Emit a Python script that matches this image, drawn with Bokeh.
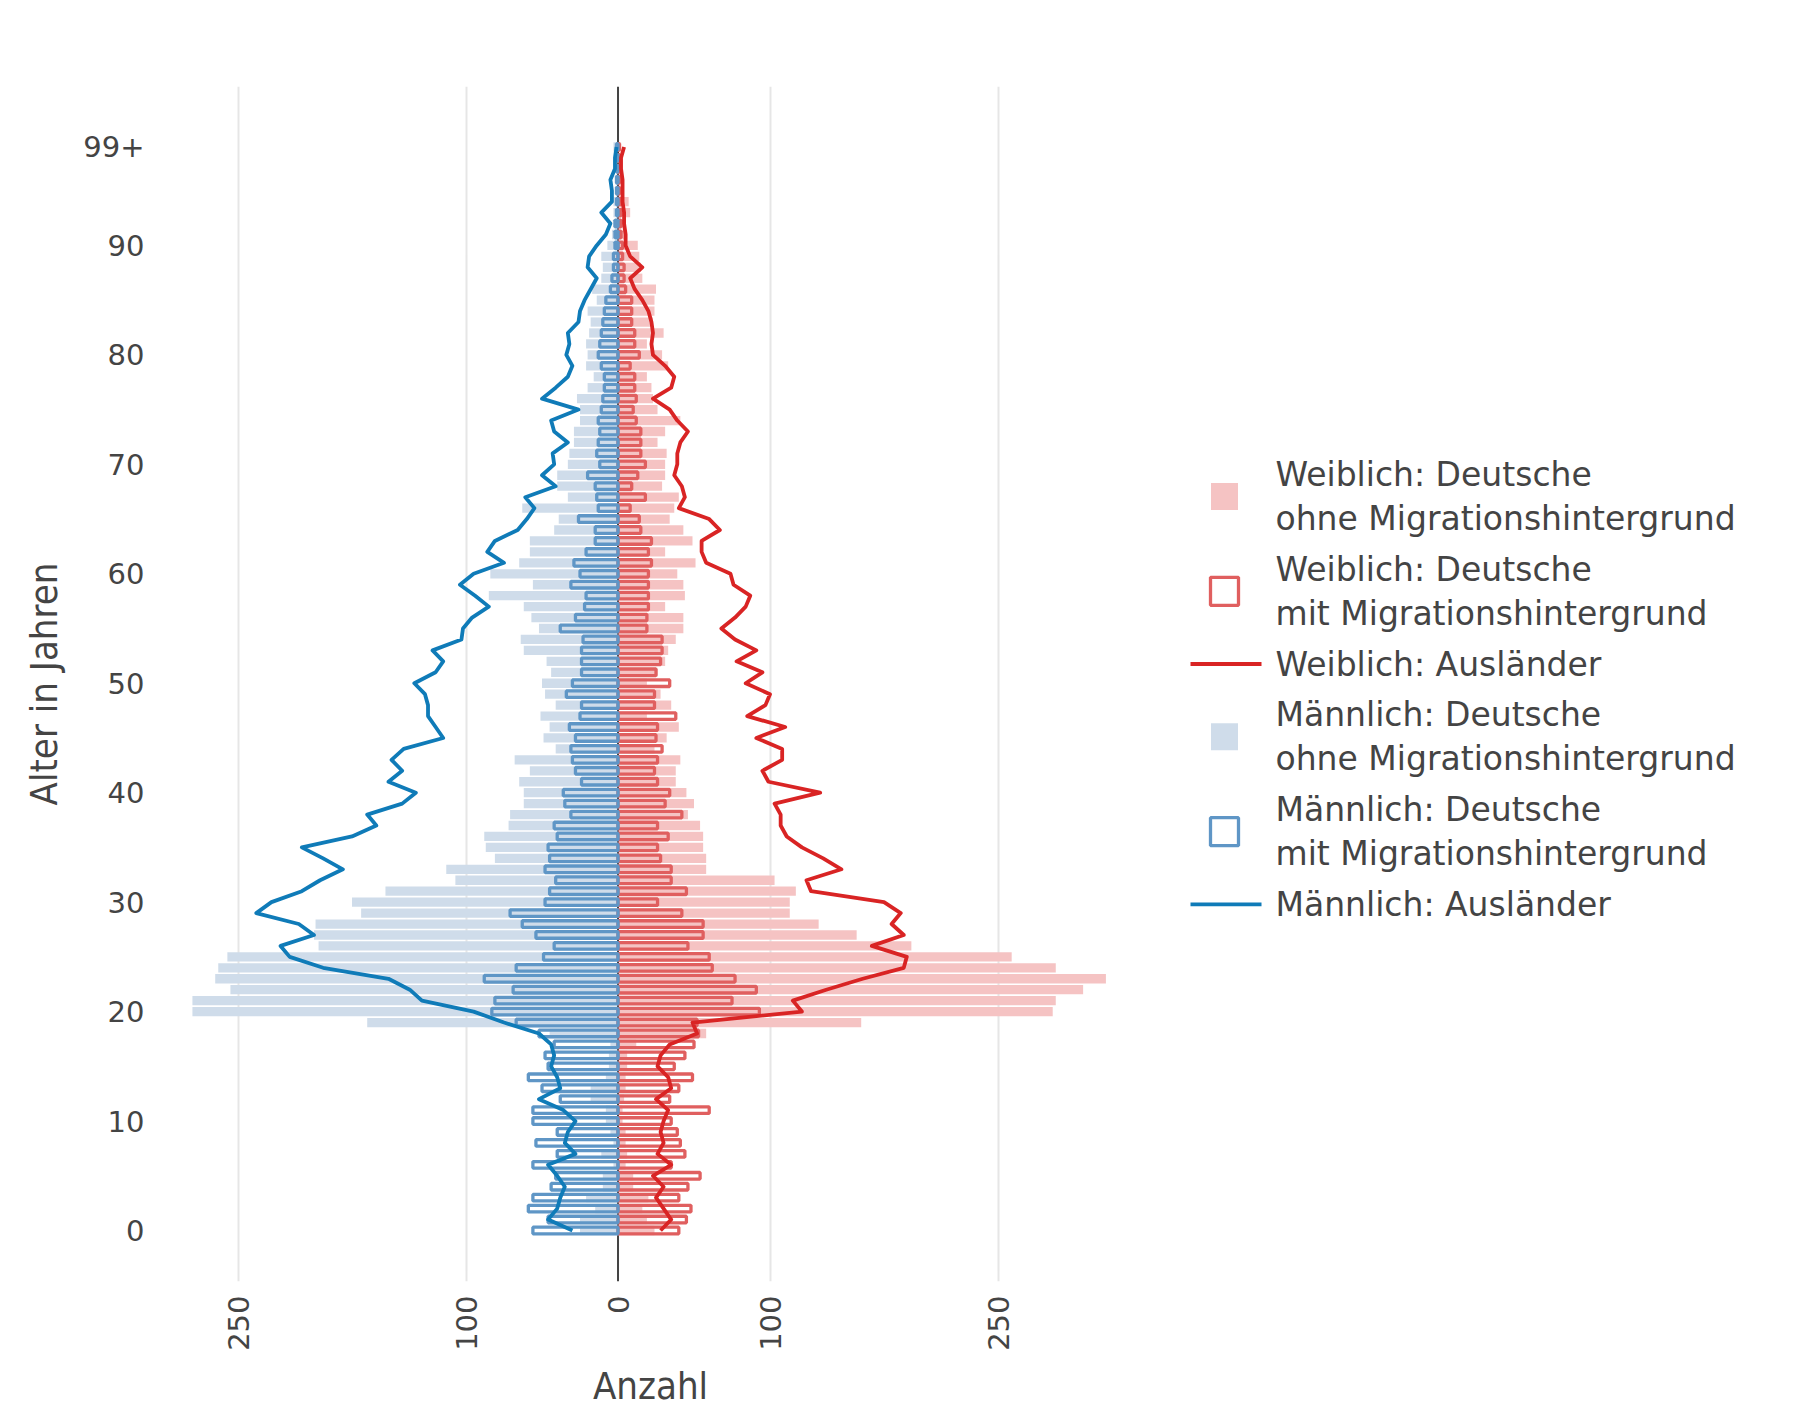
import math
from bokeh.plotting import figure
from bokeh.layouts import row
from bokeh.models import FixedTicker, Span, Range1d
from bokeh.core.properties import value
from bokeh.embed import file_html
from bokeh.resources import INLINE

# ---------------- data ----------------
ages = list(range(100))
age_tick_values = [0, 10, 20, 30, 40, 50, 60, 70, 80, 90, 99]
age_tick_labels = ["0", "10", "20", "30", "40", "50", "60", "70", "80", "90", "99+"]
count_tick_values = [-250, -100, 0, 100, 250]
count_tick_labels = ["250", "100", "0", "100", "250"]

w_ohne = [24, 19, 16, 20, 10, 10, 5, 6, 5, 5,
          3, 3, 4, 5, 5, 6, 6, 12, 58, 160,
          286, 288, 306, 321, 288, 259, 193, 157, 132, 113,
          113, 117, 103, 58, 58, 56, 56, 54, 46, 50,
          45, 38, 38, 41, 24, 32, 40, 19, 35, 28,
          19, 26, 31, 33, 38, 43, 43, 31, 44, 43,
          39, 51, 31, 49, 43, 34, 37, 40, 29, 31,
          31, 32, 26, 31, 41, 26, 23, 22, 19, 33,
          29, 19, 30, 23, 24, 24, 25, 16, 15, 14,
          13, 6, 5, 8, 7, 3, 2, 2, 1, 2]
w_mit = [40, 45, 48, 40, 46, 54, 35, 44, 41, 39,
         35, 60, 34, 40, 49, 37, 44, 50, 53, 52,
         93, 75, 91, 77, 62, 60, 46, 56, 56, 42,
         26, 45, 35, 35, 28, 26, 33, 26, 42, 31,
         34, 26, 24, 26, 29, 25, 26, 38, 24, 24,
         34, 25, 28, 29, 29, 19, 19, 20, 20, 20,
         20, 22, 20, 22, 15, 14, 8, 18, 9, 13,
         18, 15, 15, 15, 12, 10, 12, 11, 11, 8,
         14, 11, 11, 9, 9, 9, 5, 4, 4, 3,
         3, 2, 2, 2, 2, 1, 1, 1, 1, 1]
w_aus = [28, 35, 30, 25, 30, 23, 35, 26, 30, 28,
         30, 33, 25, 35, 33, 26, 28, 34, 52, 49,
         121, 115, 137, 161, 188, 190, 167, 188, 180, 186,
         175, 127, 124, 147, 135, 121, 111, 107, 107, 103,
         133, 99, 95, 108, 108, 91, 110, 85, 97, 100,
         84, 95, 78, 91, 77, 68, 77, 84, 87, 76,
         74, 58, 55, 55, 67, 60, 40, 44, 42, 37,
         39, 39, 41, 46, 39, 34, 23, 35, 37, 31,
         23, 22, 23, 22, 20, 16, 11, 8, 16, 8,
         5, 5, 4, 4, 3, 3, 3, 2, 2, 4]
m_ohne = [25, 25, 15, 21, 10, 10, 3, 11, 3, 5,
          8, 8, 18, 18, 8, 6, 6, 5, 45, 165,
          280, 280, 255, 265, 263, 257, 197, 200, 199, 169,
          175, 153, 107, 113, 81, 87, 88, 72, 71, 62,
          62, 65, 58, 68, 41, 49, 45, 51, 41, 48,
          50, 44, 47, 62, 64, 52, 57, 62, 85, 56,
          84, 65, 58, 58, 42, 39, 63, 33, 40, 40,
          33, 32, 29, 29, 25, 25, 27, 20, 16, 21,
          20, 21, 19, 18, 20, 14, 17, 11, 10, 11,
          7, 4, 3, 3, 3, 2, 2, 1, 1, 3]
m_mit = [56, 46, 59, 56, 44, 41, 56, 40, 54, 40,
         56, 56, 38, 50, 59, 46, 48, 42, 52, 67,
         83, 81, 69, 88, 67, 49, 42, 54, 63, 71,
         48, 45, 41, 48, 45, 46, 40, 42, 31, 35,
         36, 24, 28, 30, 31, 28, 32, 25, 24, 34,
         30, 24, 24, 24, 23, 38, 28, 22, 21, 31,
         25, 29, 21, 15, 15, 26, 13, 14, 15, 20,
         12, 14, 13, 12, 13, 11, 10, 9, 9, 11,
         13, 12, 11, 10, 9, 8, 5, 4, 3, 3,
         2, 2, 2, 1, 1, 1, 1, 1, 1, 1]
m_aus = [30, 46, 40, 38, 35, 40, 46, 28, 35, 33,
         28, 36, 52, 38, 40, 44, 42, 44, 52, 75,
         95, 129, 137, 151, 194, 216, 222, 200, 210, 238,
         228, 208, 196, 181, 194, 208, 175, 159, 165, 142,
         133, 151, 142, 149, 141, 115, 120, 125, 125, 127,
         134, 120, 115, 122, 103, 102, 96, 85, 94, 104,
         95, 75, 86, 81, 66, 60, 55, 61, 41, 50,
         42, 43, 33, 42, 44, 26, 50, 41, 33, 30,
         34, 32, 33, 26, 25, 22, 18, 14, 20, 19,
         14, 8, 5, 11, 4, 4, 5, 2, 2, 1]

series_names = ["Weiblich: Deutsche\nohne Migrationshintergrund",
                "Weiblich: Deutsche\nmit Migrationshintergrund",
                "Weiblich: Ausländer",
                "Männlich: Deutsche\nohne Migrationshintergrund",
                "Männlich: Deutsche\nmit Migrationshintergrund",
                "Männlich: Ausländer"]

# ---------------- styles ----------------
W_FILL = "#f5c3c3"
M_FILL = "#cfdcea"
W_EDGE = "#e05f5f"
M_EDGE = "#5f96c6"
W_LINE = "#d92424"
M_LINE = "#0f7bb8"
TXT = "#444444"
FONT = "DejaVu Sans"
TITLE_FONT = "DejaVu Sans Condensed"

# layout (page pixels)
BORDER_L, BORDER_T, BORDER_B, BORDER_R = 160, 86, 131, 10
FRAME_W, FRAME_H = 980, 1195
FIG_W = BORDER_L + FRAME_W + BORDER_R
LEG_W = 620

p = figure(frame_width=FRAME_W, frame_height=FRAME_H,
           x_range=Range1d(-301, 343.75), y_range=Range1d(-4.66, 104.52),
           output_backend="svg", toolbar_location=None,
           min_border_left=BORDER_L, min_border_right=BORDER_R,
           min_border_top=BORDER_T, min_border_bottom=BORDER_B)
p.outline_line_color = None
p.background_fill_color = "white"
p.border_fill_color = "white"

p.ygrid.visible = False
p.xgrid.ticker = FixedTicker(ticks=[v for v in count_tick_values if v != 0])
p.xgrid.grid_line_color = "#e6e6e6"
p.xgrid.grid_line_width = 2

zero = Span(location=0, dimension="height", line_color="#444444", line_width=2, level="underlay")
p.add_layout(zero)

neg = lambda arr: [-v for v in arr]

p.hbar(y=ages, left=0, right=w_ohne, height=0.85, fill_color=W_FILL, line_color=None)
p.hbar(y=ages, left=0, right=neg(m_ohne), height=0.85, fill_color=M_FILL, line_color=None)
p.hbar(y=ages, left=0, right=w_mit, height=0.6, fill_alpha=0, line_color=W_EDGE, line_width=3.3)
p.hbar(y=ages, left=0, right=neg(m_mit), height=0.6, fill_alpha=0, line_color=M_EDGE, line_width=3.3)
p.line(x=w_aus, y=ages, line_color=W_LINE, line_width=3.8, line_join="round")
p.line(x=neg(m_aus), y=ages, line_color=M_LINE, line_width=3.8, line_join="round")

# axes
p.xaxis.ticker = FixedTicker(ticks=count_tick_values)
p.xaxis.major_label_overrides = {v: l for v, l in zip(count_tick_values, count_tick_labels)}
p.xaxis.major_label_orientation = math.pi / 2
p.yaxis.ticker = FixedTicker(ticks=age_tick_values)
p.yaxis.major_label_overrides = {v: l for v, l in zip(age_tick_values, age_tick_labels)}
p.xaxis.axis_label = "Anzahl"
p.yaxis.axis_label = "Alter in Jahren"
for ax in (p.xaxis[0], p.yaxis[0]):
    ax.axis_line_color = None
    ax.major_tick_line_color = None
    ax.minor_tick_line_color = None
    ax.major_tick_out = 0
    ax.major_tick_in = 0
    ax.major_label_text_font = FONT
    ax.major_label_text_font_size = "29px"
    ax.major_label_text_color = TXT
    ax.axis_label_text_font = TITLE_FONT
    ax.axis_label_text_font_size = "38px"
    ax.axis_label_text_font_style = "normal"
    ax.axis_label_text_color = TXT
p.xaxis.major_label_standoff = 14
p.yaxis.major_label_standoff = 16
p.xaxis.axis_label_standoff = 10
p.yaxis.axis_label_standoff = 14

# ---------------- legend panel (coordinates = page pixels) ----------------
L = figure(frame_width=LEG_W, frame_height=FRAME_H,
           x_range=Range1d(FIG_W, FIG_W + LEG_W),
           y_range=Range1d(BORDER_T + FRAME_H, BORDER_T),
           x_axis_location=None, y_axis_location=None,
           min_border_left=0, min_border_right=0,
           min_border_top=BORDER_T, min_border_bottom=BORDER_B,
           output_backend="svg", toolbar_location=None)
L.outline_line_color = None
L.grid.visible = False

LINE_X0, LINE_X1 = 1190, 1261
SYM_CX = 1224
TEXT_X = 1275
LINE_H, GAP = 44.55, 5.85
top = 473.6
kinds = ["fill", "edge", "line", "fill", "edge", "line"]
colors = [W_FILL, W_EDGE, W_LINE, M_FILL, M_EDGE, M_LINE]

tx, ty, tt = [], [], []
fill_sq = dict(left=[], right=[], top=[], bottom=[], color=[])
edge_sq = dict(left=[], right=[], top=[], bottom=[], color=[])
segs = dict(x0=[], x1=[], y=[], color=[])
for name, kind, col in zip(series_names, kinds, colors):
    parts = name.split("\n")
    centers = [top + i * LINE_H for i in range(len(parts))]
    cy = (centers[0] + centers[-1]) / 2
    for t, c in zip(parts, centers):
        tx.append(TEXT_X)
        ty.append(c)
        tt.append(t)
    if kind == "line":
        segs["x0"].append(LINE_X0); segs["x1"].append(LINE_X1)
        segs["y"].append(cy); segs["color"].append(col)
    else:
        d = fill_sq if kind == "fill" else edge_sq
        half = 13.5 if kind == "fill" else 14
        d["left"].append(SYM_CX - half); d["right"].append(SYM_CX + half)
        d["top"].append(cy - half); d["bottom"].append(cy + half)
        d["color"].append(col)
    top = centers[-1] + LINE_H + GAP

L.quad(left=fill_sq["left"], right=fill_sq["right"], top=fill_sq["top"], bottom=fill_sq["bottom"],
       fill_color=fill_sq["color"], line_color=None)
L.quad(left=edge_sq["left"], right=edge_sq["right"], top=edge_sq["top"], bottom=edge_sq["bottom"],
       fill_alpha=0, line_color=edge_sq["color"], line_width=3.3)
L.segment(x0=segs["x0"], y0=segs["y"], x1=segs["x1"], y1=segs["y"],
          line_color=segs["color"], line_width=3.8)
L.text(x=tx, y=ty, text=tt, text_font=value(FONT), text_font_size=value("33px"),
       text_color=TXT, text_baseline="middle", text_align="left")

layout = row(p, L)
open("out.html", "w").write(file_html(layout, INLINE))
